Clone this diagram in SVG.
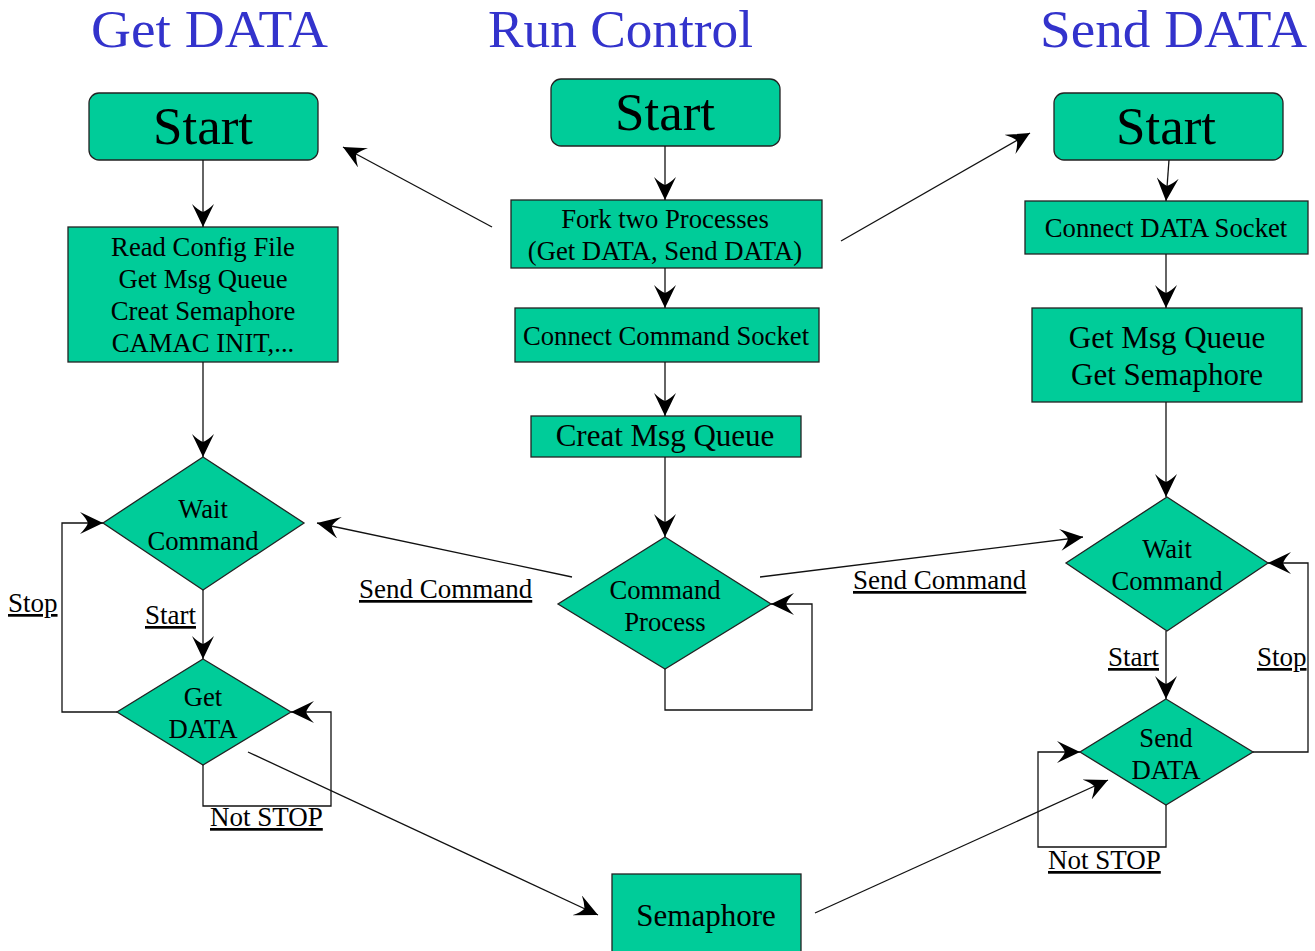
<svg xmlns="http://www.w3.org/2000/svg" width="1315" height="951" viewBox="0 0 1315 951">
  <style>
    .box { fill: #00CC99; stroke: #222; stroke-width: 1.3; }
    .t { font-family: "Liberation Serif", "Times New Roman", serif; fill: #000; text-anchor: middle; }
    .big { font-size: 53px; }
    .mid { font-size: 31px; }
    .sm { font-size: 26.7px; }
    .title { font-family: "Liberation Serif", "Times New Roman", serif; font-size: 52px; fill: #3333CC; text-anchor: middle; }
    .lbl { font-family: "Liberation Serif", "Times New Roman", serif; font-size: 27px; fill: #000; text-decoration: underline; }
    .arr { fill: none; stroke: #111; stroke-width: 1.3; marker-end: url(#ah); }
  </style>
  <defs>
    <marker id="ah" markerWidth="24" markerHeight="22" refX="23" refY="11" viewBox="0 0 24 22" orient="auto" markerUnits="userSpaceOnUse">
      <path d="M23,11 L0,0 Q6,6 8,11 Q6,16 0,22 Z" fill="#000"/>
    </marker>
  </defs>
  <rect width="1315" height="951" fill="#fff"/>

  <!-- column titles -->
  <g id="titles">
    <text class="title" x="209.5" y="47" textLength="237" lengthAdjust="spacingAndGlyphs">Get DATA</text>
    <text class="title" x="620.5" y="47" textLength="265" lengthAdjust="spacingAndGlyphs">Run Control</text>
    <text class="title" x="1173.5" y="47" textLength="267" lengthAdjust="spacingAndGlyphs">Send DATA</text>
  </g>

  <!-- Get DATA process -->
  <g id="gd-start">
    <rect class="box" x="89" y="93" width="229" height="67" rx="10"/>
    <text class="t big" x="203" y="144">Start</text>
  </g>
  <g id="gd-init">
    <rect class="box" x="68" y="227" width="270" height="135"/>
    <text class="t sm" x="203" y="256">Read Config File</text>
    <text class="t sm" x="203" y="288">Get Msg Queue</text>
    <text class="t sm" x="203" y="320">Creat Semaphore</text>
    <text class="t sm" x="203" y="352">CAMAC INIT,...</text>
  </g>
  <g id="gd-wait">
    <polygon class="box" points="203,457 304,523 203,590 103,523"/>
    <text class="t sm" x="203" y="518">Wait</text>
    <text class="t sm" x="203" y="550">Command</text>
  </g>
  <g id="gd-get">
    <polygon class="box" points="203,659 291,712 203,765 117,712"/>
    <text class="t sm" x="203" y="706">Get</text>
    <text class="t sm" x="203" y="738">DATA</text>
  </g>

  <!-- Run Control process -->
  <g id="rc-start">
    <rect class="box" x="551" y="79" width="229" height="67" rx="10"/>
    <text class="t big" x="665" y="130">Start</text>
  </g>
  <g id="rc-fork">
    <rect class="box" x="511" y="200" width="311" height="68"/>
    <text class="t sm" x="665" y="228">Fork two Processes</text>
    <text class="t sm" x="665" y="260">(Get DATA, Send DATA)</text>
  </g>
  <g id="rc-socket">
    <rect class="box" x="515" y="308" width="304" height="54"/>
    <text class="t sm" x="666" y="345">Connect Command Socket</text>
  </g>
  <g id="rc-queue">
    <rect class="box" x="531" y="416" width="270" height="41"/>
    <text class="t mid" x="665" y="446">Creat Msg Queue</text>
  </g>
  <g id="rc-process">
    <polygon class="box" points="665,537 771,604 665,669 558,604"/>
    <text class="t sm" x="665" y="599">Command</text>
    <text class="t sm" x="665" y="631">Process</text>
  </g>
  <g id="semaphore">
    <rect class="box" x="612" y="874" width="189" height="90"/>
    <text class="t mid" x="706" y="926">Semaphore</text>
  </g>

  <!-- Send DATA process -->
  <g id="sd-start">
    <rect class="box" x="1054" y="93" width="229" height="67" rx="10"/>
    <text class="t big" x="1166" y="144">Start</text>
  </g>
  <g id="sd-socket">
    <rect class="box" x="1025" y="201" width="283" height="53"/>
    <text class="t sm" x="1166" y="237">Connect DATA Socket</text>
  </g>
  <g id="sd-queue">
    <rect class="box" x="1032" y="308" width="270" height="94"/>
    <text class="t mid" x="1167" y="348">Get Msg Queue</text>
    <text class="t mid" x="1167" y="385">Get Semaphore</text>
  </g>
  <g id="sd-wait">
    <polygon class="box" points="1167,497 1268,563 1167,631 1066,563"/>
    <text class="t sm" x="1167" y="558">Wait</text>
    <text class="t sm" x="1167" y="590">Command</text>
  </g>
  <g id="sd-send">
    <polygon class="box" points="1166,699 1253,752 1166,805 1080,752"/>
    <text class="t sm" x="1166" y="747">Send</text>
    <text class="t sm" x="1166" y="779">DATA</text>
  </g>

  <!-- connectors -->
  <g id="connectors">
    <!-- Get DATA column -->
    <path class="arr" d="M203,160 L203,227"/>
    <path class="arr" d="M203,362 L203,457"/>
    <path class="arr" d="M203,590 L203,659"/>
    <path class="arr" d="M117,712 L62,712 L62,523 L103,523"/>
    <path class="arr" d="M203,765 L203,806 L331,806 L331,712 L291,712"/>
    <path class="arr" d="M248,752 L598,915"/>

    <!-- Run Control column -->
    <path class="arr" d="M665,146 L665,200"/>
    <path class="arr" d="M665,268 L665,308"/>
    <path class="arr" d="M665,362 L665,416"/>
    <path class="arr" d="M665,457 L665,537"/>
    <path class="arr" d="M665,669 L665,710 L812,710 L812,604 L771,604"/>
    <path class="arr" d="M492,227 L343,147"/>
    <path class="arr" d="M841,241 L1030,133"/>
    <path class="arr" d="M572,577 L317,523"/>
    <path class="arr" d="M760,577 L1083,537"/>

    <!-- Send DATA column -->
    <path class="arr" d="M1169,160 L1166,201"/>
    <path class="arr" d="M1166,254 L1166,308"/>
    <path class="arr" d="M1166,402 L1166,497"/>
    <path class="arr" d="M1166,631 L1166,699"/>
    <path class="arr" d="M1253,752 L1308,752 L1308,563 L1268,563"/>
    <path class="arr" d="M1166,805 L1166,847 L1038,847 L1038,752 L1080,752"/>
    <path class="arr" d="M815,913 L1108,780"/>
  </g>

  <!-- connector labels -->
  <g id="labels">
    <text class="lbl" x="8" y="612">Stop</text>
    <text class="lbl" x="145" y="624">Start</text>
    <text class="lbl" x="210" y="826">Not STOP</text>
    <text class="lbl" x="359" y="598">Send Command</text>
    <text class="lbl" x="853" y="589">Send Command</text>
    <text class="lbl" x="1108" y="666">Start</text>
    <text class="lbl" x="1257" y="666">Stop</text>
    <text class="lbl" x="1048" y="869">Not STOP</text>
  </g>
</svg>
